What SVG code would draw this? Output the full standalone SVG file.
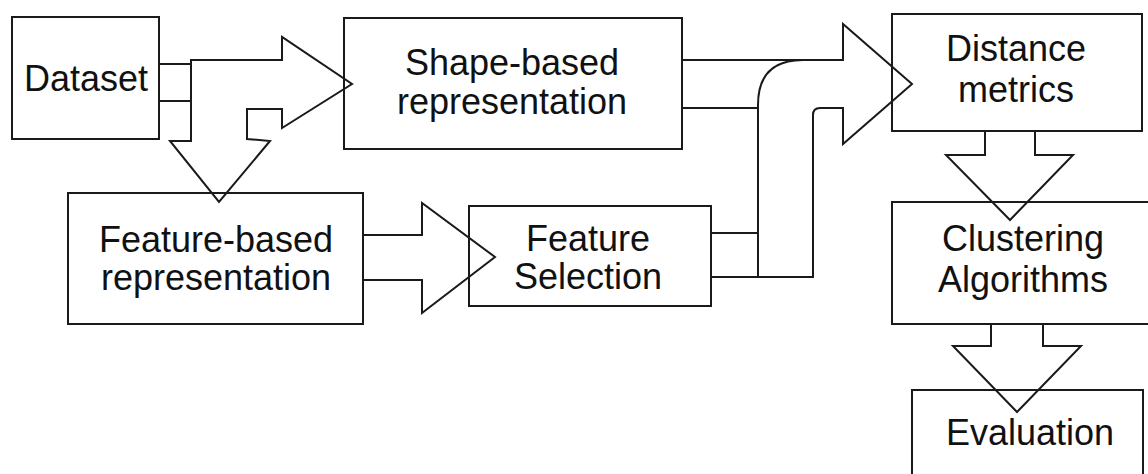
<svg xmlns="http://www.w3.org/2000/svg" width="1148" height="474" viewBox="0 0 1148 474">
<style>
.box{fill:none;stroke:#1a1a1a;stroke-width:2}
.arr{fill:none;stroke:#1a1a1a;stroke-width:2;stroke-linejoin:miter}
.ln{fill:none;stroke:#1a1a1a;stroke-width:2}
text{font-family:"Liberation Sans",Arial,sans-serif;font-size:36px;fill:#111;text-anchor:middle}
</style>
<rect width="1148" height="474" fill="#fff"/>
<g id="dataset"><rect class="box" x="12" y="17" width="147" height="122"/><text x="86" y="91">Dataset</text></g>
<g id="shape-based"><rect class="box" x="344" y="18" width="338" height="131"/><text x="512" y="75">Shape-based</text><text x="512" y="114">representation</text></g>
<g id="distance"><rect class="box" x="892" y="14" width="250" height="117"/><text x="1016" y="61">Distance</text><text x="1016" y="102">metrics</text></g>
<g id="feature-based"><rect class="box" x="68" y="193" width="295" height="131"/><text x="216" y="252">Feature-based</text><text x="216" y="290">representation</text></g>
<g id="feature-selection"><rect class="box" x="469" y="206" width="242" height="100"/><text x="588" y="251">Feature</text><text x="588" y="289">Selection</text></g>
<g id="clustering"><rect class="box" x="892" y="202" width="262" height="122"/><text x="1023" y="251">Clustering</text><text x="1023" y="292">Algorithms</text></g>
<g id="evaluation"><rect class="box" x="912" y="390" width="231" height="92"/><text x="1030" y="445">Evaluation</text></g>
<g id="connectors">
<path class="arr" d="M191,141 L191,60 L282,60 L282,37 L352,84 L282,128 L282,109 L247,109 L247,139 L270,141 L219,202 L170,141 Z"/>
<path class="ln" d="M159,64 H191 M159,101 H191"/>
<path class="arr" d="M363,235 L422,235 L422,203 L495,257 L422,313 L422,280 L363,280"/>
<path class="arr" d="M682,60 L843,60 L843,24 L912,84 L843,144 L843,108 L820,108 Q813,108 813,115 L813,277 L712,277"/>
<path class="ln" d="M682,108 L758,108 M803,60 Q758,60 758,105 L758,277 M712,233 L758,233"/>
<path class="arr" d="M985,131 L985,155 L946,155 L1010,220 L1073,155 L1035,155 L1035,131"/>
<path class="arr" d="M991,324 L991,346 L953,346 L1017,412 L1081,346 L1043,346 L1043,324"/>
</g>
</svg>
